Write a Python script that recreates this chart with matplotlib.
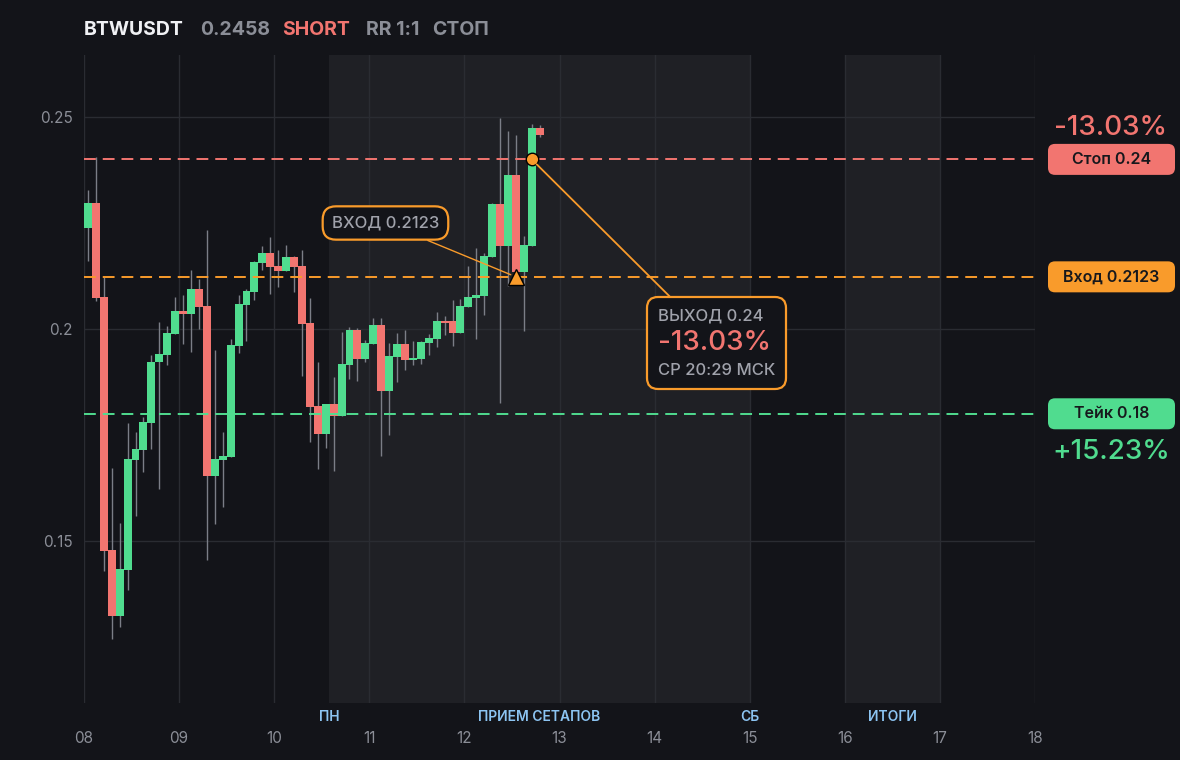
import matplotlib
matplotlib.use('Agg')
import matplotlib.pyplot as plt
from matplotlib.offsetbox import TextArea, VPacker, AnnotationBbox
from matplotlib.patches import FancyBboxPatch
from matplotlib.transforms import IdentityTransform

plt.rcParams['font.family'] = ['Inter', 'DejaVu Sans']
plt.rcParams['lines.scale_dashes'] = False

# 2h свечи, начиная с 08 числа 00:00
opens = [0.2239, 0.2297, 0.2075, 0.1479, 0.1324, 0.1432, 0.1692, 0.1715, 0.1778, 0.1921,
         0.1939, 0.1989, 0.2042, 0.2036, 0.2094, 0.2054, 0.1654, 0.1692, 0.1699, 0.1961,
         0.2057, 0.2087, 0.2156, 0.2179, 0.2149, 0.2137, 0.2170, 0.2149, 0.2014, 0.1818,
         0.1752, 0.1823, 0.1795, 0.1915, 0.1998, 0.1929, 0.1965, 0.2009, 0.1854, 0.1934,
         0.1965, 0.1927, 0.1929, 0.1967, 0.1976, 0.2019, 0.2019, 0.1991, 0.2052, 0.2073,
         0.2078, 0.2170, 0.2295, 0.2196, 0.2363, 0.2134, 0.2196, 0.2474]
highs = [0.2328, 0.2406, 0.2123, 0.1672, 0.1542, 0.1778, 0.1757, 0.1793, 0.1939, 0.2017,
         0.2007, 0.2075, 0.2080, 0.2139, 0.2118, 0.2233, 0.1950, 0.1757, 0.1976, 0.2080,
         0.2094, 0.2160, 0.2196, 0.2217, 0.2186, 0.2198, 0.2172, 0.2186, 0.2073, 0.1922,
         0.1823, 0.1887, 0.1993, 0.2005, 0.2002, 0.1974, 0.2026, 0.2026, 0.1967, 0.1991,
         0.1998, 0.1972, 0.1972, 0.1988, 0.2040, 0.2031, 0.2068, 0.2071, 0.2149, 0.2191,
         0.2179, 0.2297, 0.2498, 0.2467, 0.2458, 0.2219, 0.2483, 0.2481]
lows = [0.2161, 0.2067, 0.1430, 0.1269, 0.1296, 0.1385, 0.1560, 0.1663, 0.1718, 0.1623,
        0.1916, 0.1989, 0.1965, 0.1946, 0.2000, 0.1454, 0.1541, 0.1581, 0.1699, 0.1944,
        0.1972, 0.2068, 0.2139, 0.2083, 0.2099, 0.2137, 0.2087, 0.1889, 0.1733, 0.1670,
        0.1719, 0.1665, 0.1795, 0.1882, 0.1877, 0.1922, 0.1965, 0.1700, 0.1750, 0.1875,
        0.1903, 0.1915, 0.1917, 0.1939, 0.1958, 0.1986, 0.1960, 0.1991, 0.2052, 0.1976,
        0.2033, 0.2170, 0.1825, 0.2101, 0.2120, 0.1996, 0.2196, 0.2453]
closes = [0.2297, 0.2074, 0.1477, 0.1324, 0.1434, 0.1693, 0.1717, 0.1781, 0.1922, 0.1941,
          0.1991, 0.2042, 0.2036, 0.2094, 0.2053, 0.1654, 0.1693, 0.1700, 0.1962, 0.2059,
          0.2090, 0.2158, 0.2179, 0.2146, 0.2137, 0.2170, 0.2146, 0.2012, 0.1816, 0.1752,
          0.1823, 0.1795, 0.1917, 0.1998, 0.1929, 0.1967, 0.2009, 0.1854, 0.1936, 0.1965,
          0.1927, 0.1932, 0.1969, 0.1979, 0.2019, 0.2014, 0.1991, 0.2054, 0.2075, 0.2080,
          0.2172, 0.2295, 0.2196, 0.2363, 0.2134, 0.2198, 0.2474, 0.2458]

days = list(range(8, 19))
day_labels = ['%02d' % d for d in days]
y_ticks = [0.15, 0.2, 0.25]
y_tick_labels = ['0.15', '0.2', '0.25']

entry_price = 0.2123
stop_price = 0.24
take_price = 0.18
entry_idx = 54
exit_idx = 56
stop_pct = '-13.03%'
take_pct = '+15.23%'

sessions = [(10.58, 15.0), (16.0, 17.0)]
session_labels = ['ПН', 'ПРИЕМ СЕТАПОВ', 'СБ', 'ИТОГИ']
session_label_x = [10.58, 12.79, 15.0, 16.5]

# цвета
BG = '#131419'
SHADE = '#1f2025'
GRID = '#2a2c32'
GREEN = '#50dc8f'
RED = '#f27570'
ORANGE = '#f99b2b'
WICK = '#7b7e87'
GRAY = '#8b8e97'
BLUE = '#8cc4f2'

fig = plt.figure(figsize=(11.8, 7.6), dpi=100, facecolor=BG)
ax = fig.add_axes([84 / 1180, 1 - 703 / 760, 951 / 1180, 648 / 760])
ax.set_facecolor(BG)
ax.set_xlim(8, 18)
ax.set_ylim(0.11179, 0.26462)
for s in ax.spines.values():
    s.set_visible(False)

for a, b in sessions:
    ax.axvspan(a, b, color=SHADE, lw=0, zorder=0)

for d in days:
    ax.axvline(d, color=GRID, lw=1, zorder=1)
for yt in y_ticks:
    ax.axhline(yt, color=GRID, lw=1, zorder=1)

ax.set_xticks(days)
ax.set_xticklabels(day_labels)
ax.set_yticks(y_ticks)
ax.set_yticklabels(y_tick_labels)
ax.tick_params(axis='x', length=0, pad=20, colors=GRAY, labelsize=11)
ax.tick_params(axis='y', length=0, pad=8, colors=GRAY, labelsize=11)

# свечи
w = 1 / 12
xs = [8 + (i + 0.5) * w for i in range(len(opens))]
ax.vlines(xs, lows, highs, color=WICK, lw=1, zorder=2)
bottoms = [min(o, c) for o, c in zip(opens, closes)]
heights = [abs(c - o) for o, c in zip(opens, closes)]
colors = [GREEN if c >= o else RED for o, c in zip(opens, closes)]
ax.bar(xs, heights, width=w, bottom=bottoms, color=colors, lw=0, zorder=3)

# уровни
for lvl, col in [(stop_price, RED), (entry_price, ORANGE), (take_price, GREEN)]:
    ax.axhline(lvl, color=col, lw=1.4, ls=(0, (8.5, 5)), zorder=4)

# точки входа и выхода
ax.plot(xs[entry_idx], entry_price, marker='^', ms=11, mfc=ORANGE, mec='black', mew=1, zorder=6)
ax.plot(xs[exit_idx], stop_price, marker='o', ms=9, mfc=ORANGE, mec='black', mew=1, zorder=6)

ax.annotate('ВХОД 0.2123', xy=(xs[entry_idx], entry_price), xytext=(11.17, 0.2250),
            ha='center', va='center', fontsize=12, color='#a0a2ab', fontweight='medium',
            bbox=dict(boxstyle='round,pad=0.55,rounding_size=0.8', fc=BG, ec=ORANGE, lw=1.6),
            arrowprops=dict(arrowstyle='-', color=ORANGE, lw=1, shrinkA=0, shrinkB=4),
            zorder=7)

lines = VPacker(children=[
    TextArea('ВЫХОД 0.24', textprops=dict(color='#a0a2ab', fontsize=12, fontweight='medium')),
    TextArea(stop_pct, textprops=dict(color=RED, fontsize=20, fontweight='medium')),
    TextArea('СР 20:29 МСК', textprops=dict(color='#a0a2ab', fontsize=12, fontweight='medium')),
], align='left', pad=0, sep=5)
ab = AnnotationBbox(lines, xy=(xs[exit_idx], stop_price), xybox=(14.651, 0.1967),
                    xycoords='data', boxcoords='data', pad=0.75, fontsize=10,
                    bboxprops=dict(boxstyle='round,pad=0.78,rounding_size=0.8', fc=BG, ec=ORANGE, lw=1.6),
                    arrowprops=dict(arrowstyle='-', color=ORANGE, lw=1.3, shrinkA=0, shrinkB=5),
                    zorder=7)
ax.add_artist(ab)

# подписи сессий
for lab, xv in zip(session_labels, session_label_x):
    ax.text(xv, -0.0216, lab, transform=ax.get_xaxis_transform(), ha='center', va='center',
            fontsize=10, color=BLUE, fontweight='semibold')

# ярлыки справа
for lvl, col, txt in [(stop_price, RED, 'Стоп 0.24'), (entry_price, ORANGE, 'Вход 0.2123'),
                      (take_price, GREEN, 'Тейк 0.18')]:
    yd = ax.transData.transform((8, lvl))[1]
    box = FancyBboxPatch((1048, yd - 15.5), 127, 31, boxstyle='round,pad=0,rounding_size=7',
                         transform=IdentityTransform(), fc=col, ec='none')
    fig.add_artist(box)
    fig.text(1111.5 / 1180, yd / 760, txt, ha='center', va='center', fontsize=11.5,
             color='#17181c', fontweight='semibold')

y_top = ax.transData.transform((8, stop_price))[1] + 31
fig.text(1111 / 1180, y_top / 760, stop_pct, ha='center', va='center', fontsize=20,
         color=RED, fontweight='medium')
y_bot = ax.transData.transform((8, take_price))[1] - 38
fig.text(1111 / 1180, y_bot / 760, take_pct, ha='center', va='center', fontsize=20,
         color=GREEN, fontweight='medium')

# заголовок
hy = 1 - 35 / 760
fig.text(84 / 1180, hy, 'BTWUSDT', fontsize=14, fontweight='bold', color='#f0f1f4', va='baseline')
fig.text(200 / 1180, hy, '0.2458', fontsize=14, fontweight='bold', color=GRAY, va='baseline')
fig.text(282 / 1180, hy, 'SHORT', fontsize=14, fontweight='bold', color=RED, va='baseline')
fig.text(366 / 1180, hy, 'RR 1:1', fontsize=14, fontweight='bold', color=GRAY, va='baseline')
fig.text(432 / 1180, hy, 'СТОП', fontsize=14, fontweight='bold', color=GRAY, va='baseline')

fig.savefig('out.png', dpi=100, facecolor=BG)
